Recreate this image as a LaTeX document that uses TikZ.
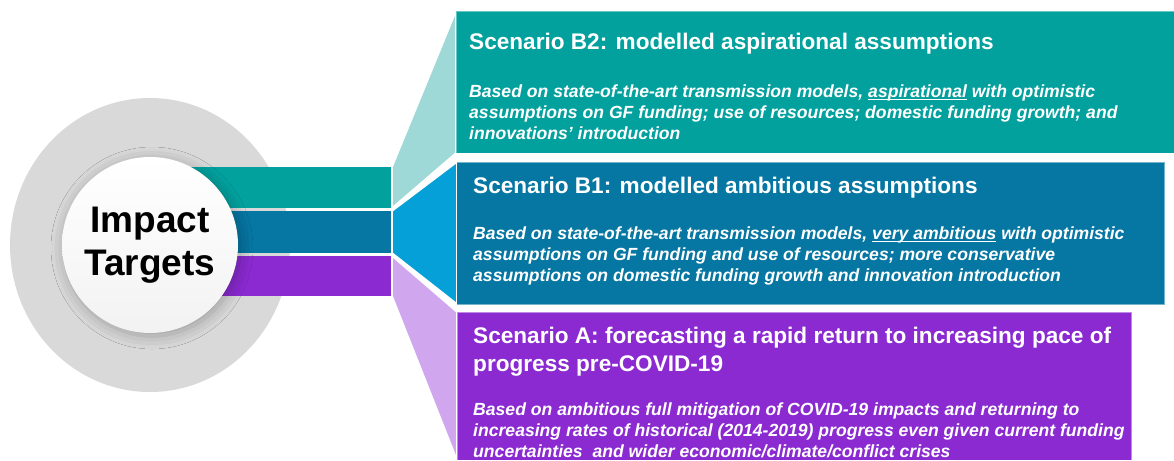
\documentclass[tikz,border=0pt]{standalone}
\usepackage{fontspec}
\setmainfont{Liberation Sans}
\usetikzlibrary{shadows.blur,shapes.geometric}
\definecolor{tealbox}{HTML}{03A19E}
\definecolor{tealfun}{HTML}{9ED9D7}
\definecolor{bluebox}{HTML}{0676A2}
\definecolor{bluefun}{HTML}{06A0D9}
\definecolor{purpbox}{HTML}{8A2AD0}
\definecolor{purpfun}{HTML}{D0A7EE}
\definecolor{greyring}{HTML}{D9D9D9}
\newcommand\myul[1]{\setbox0\hbox{#1}\rlap{\rule[-2.6pt]{\wd0}{1.1pt}}\box0\relax}
\begin{document}
\begin{tikzpicture}[x=1pt,y=-1pt,
  blk/.style={rectangle,inner sep=0pt,outer sep=0pt,anchor=north west},
  funnel/.style={draw=white,line width=1.6pt,line join=miter},
  boxedge/.style={line width=0.8pt},
  titletext/.style={anchor=base west,inner sep=0pt,text=white,font=\fontsize{22.6}{28}\selectfont\bfseries},
  bodytext/.style={anchor=base west,inner sep=0pt,text=white,font=\fontsize{17.6}{21}\selectfont\bfseries\itshape}]
\useasboundingbox (0,0) rectangle (1174,460);
% outer ring
\node (ring) [ellipse,fill=greyring,minimum width=280pt,minimum height=294pt,inner sep=0pt] at (150,245) {};
% bars
\node (barT) [blk,fill=tealbox,minimum width=242pt,minimum height=41pt] at (150,167) {};
\node (barB) [blk,fill=bluebox,minimum width=242pt,minimum height=42pt] at (150,211) {};
\node (barP) [blk,fill=purpbox,minimum width=242pt,minimum height=40pt] at (150,256) {};
% boxes (positions)
\node (b2) [blk,minimum width=718pt,minimum height=142pt] at (456,11) {};
\node (b1) [blk,minimum width=707pt,minimum height=142pt] at (457,162) {};
\node (ba) [blk,minimum width=674pt,minimum height=148pt] at (457,312) {};
% funnels
\fill[tealfun,funnel] (barT.north east) -- (b2.north west) -- (b2.south west) -- (barT.south east) -- cycle;
\fill[bluefun,funnel] (barB.north east) -- (b1.north west) -- (b1.south west) -- (barB.south east) -- cycle;
\fill[purpfun,funnel] (barP.north east) -- (ba.north west) -- (ba.south west) -- (barP.south east) -- cycle;
% box fills
\fill[tealbox] (b2.north west) rectangle (b2.south east);
\draw[boxedge,draw=tealbox!60!white] (b2.south west) -- (b2.north west) -- (b2.north east);
\fill[bluebox] (b1.north west) rectangle (b1.south east);
\draw[boxedge,draw=bluebox!55!white] (b1.north west) -- (b1.north east) -- (b1.south east) -- (b1.south west);
\fill[purpbox] (ba.north west) rectangle (ba.south east);
\draw[boxedge,draw=purpbox!55!white] (ba.south west) -- (ba.north west) -- (ba.north east) -- (ba.south east);
% centre circle
\node (core) [circle,minimum size=176pt,inner sep=0pt,top color=white,bottom color=black!5,
  blur shadow={shadow xshift=2pt,shadow yshift=-3pt,shadow blur radius=13pt,shadow opacity=28},
  align=center,font=\fontsize{37}{43}\selectfont\bfseries] at (150,245) {Impact\\Targets};
% texts
\node (b2t) [titletext] at (469,50) {Scenario B2: modelled aspirational assumptions};
\node (b2b) [bodytext] at (469,97) {\parbox[t]{700pt}{\raggedright
Based on state-of-the-art transmission models, \myul{aspirational} with optimistic\\
assumptions on GF funding; use of resources; domestic funding growth; and\\
innovations’ introduction}};
\node (b1t) [titletext] at (473,193) {Scenario B1: modelled ambitious assumptions};
\node (b1b) [bodytext] at (473,239) {\parbox[t]{700pt}{\raggedright
Based on state-of-the-art transmission models, \myul{very ambitious} with optimistic\\
assumptions on GF funding and use of resources; more conservative\\
assumptions on domestic funding growth and innovation introduction}};
\node (bat) [titletext] at (473,343) {\parbox[t]{700pt}{\raggedright
Scenario A: forecasting a rapid return to increasing pace of\\
progress pre-COVID-19}};
\node (bab) [bodytext] at (473,415) {\parbox[t]{700pt}{\raggedright
Based on ambitious full mitigation of COVID-19 impacts and returning to\\
increasing rates of historical (2014-2019) progress even given current funding\\
uncertainties\ \ and wider economic/climate/conflict crises}};
\end{tikzpicture}
\end{document}
